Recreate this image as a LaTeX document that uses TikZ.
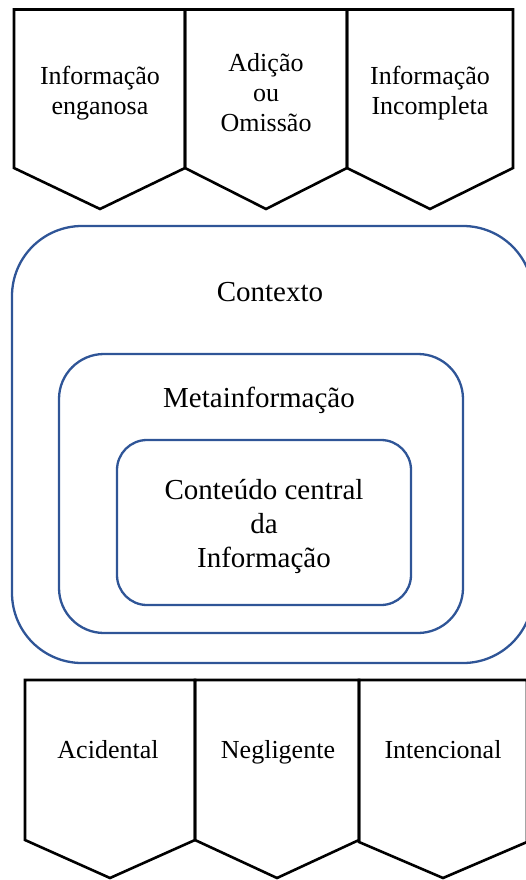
\documentclass[tikz,border=0pt]{standalone}
\usepackage{fontspec}
\setmainfont{Liberation Serif}
\definecolor{ringblue}{HTML}{2F5597}
\tikzset{
  tab/.style={draw=black, line width=2.6pt, line join=miter},
  ring/.style={draw=ringblue, line width=2.3pt},
  tabtext/.style={align=center, inner sep=0pt, font=\fontsize{26}{30}\selectfont},
  ringtext/.style={align=center, inner sep=0pt, font=\fontsize{29}{34}\selectfont}
}
\begin{document}
\begin{tikzpicture}[x=1pt, y=-1pt]
    \useasboundingbox (0,0) rectangle (526,880);
    \clip (0,0) rectangle (526,880);
    % upper tabs
    \draw [tab] (14,9.5) -- (185,9.5) -- (185,168) -- (100,209) -- (14,168) -- cycle;
    \draw [tab] (185,9.5) -- (347,9.5) -- (347,168) -- (266,209) -- (185,168) -- cycle;
    \draw [tab] (347,9.5) -- (513,9.5) -- (513,168) -- (430,209) -- (347,168) -- cycle;
    \node [tabtext] (engano) at (100,93) {Informação\\enganosa};
    \node [tabtext] (adicao) at (266,93) {Adição\\ou\\Omissão};
    \node [tabtext] (incomp) at (430,93) {Informação\\Incompleta};
    % nested boxes
    \draw [ring, rounded corners=70pt] (12,226) rectangle (533,663);
    \draw [ring, rounded corners=45pt] (59,354) rectangle (463,633);
    \draw [ring, rounded corners=30pt] (117,440) rectangle (411,605);
    \node [ringtext, anchor=base] (contexto) at (270,301) {Contexto};
    \node [ringtext, anchor=base] (meta) at (259,407) {Metainformação};
    \node [ringtext] (nucleo) at (264,526) {Conteúdo central\\da\\Informação};
    % lower tabs
    \draw [tab] (25,680) -- (195,680) -- (195,840) -- (110,878) -- (25,840) -- cycle;
    \draw [tab] (195,680) -- (359,680) -- (359,840) -- (277,878) -- (195,840) -- cycle;
    \draw [tab] (359,680) -- (527,680) -- (527,842) -- (443,878) -- (359,842) -- cycle;
    \node [tabtext, anchor=base] (acid) at (108,758) {Acidental};
    \node [tabtext, anchor=base] (negl) at (278,758) {Negligente};
    \node [tabtext, anchor=base] (inten) at (443,758) {Intencional};
\end{tikzpicture}
\end{document}
